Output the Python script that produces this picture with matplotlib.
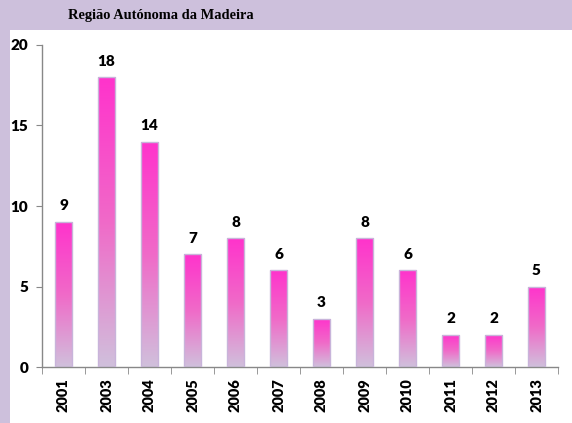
import numpy as np
import matplotlib
matplotlib.use("Agg")
import matplotlib.pyplot as plt
from matplotlib.patches import Rectangle
from matplotlib.colors import LinearSegmentedColormap

years = ["2001", "2003", "2004", "2005", "2006", "2007", "2008", "2009", "2010", "2011", "2012", "2013"]
values = [9, 18, 14, 7, 8, 6, 3, 8, 6, 2, 2, 5]
yticks = [0, 5, 10, 15, 20]
title = "Região Autónoma da Madeira"

W, H = 572, 423
fig = plt.figure(figsize=(W / 100, H / 100), dpi=100)
fig.patch.set_facecolor("#CDC0DC")
fig.add_artist(Rectangle((10 / W, 0), 1 - 10 / W, 1 - 30 / H, transform=fig.transFigure,
                         facecolor="white", edgecolor="none", zorder=0))

ax = fig.add_axes([42 / W, 1 - 367 / H, (558 - 42) / W, (367 - 45) / H])
ax.set_facecolor("none")

FW = "heavy"
FAM = "Lato"

cmap = LinearSegmentedColormap.from_list("g", ["#D0C0DC", "#F06AC8", "#FF33CC"])
grad = np.linspace(0, 1, 256).reshape(-1, 1)
bw = 0.4
x = np.arange(len(years))
bars = ax.bar(x, values, width=bw, facecolor="none", edgecolor="#C8B4DA", linewidth=1.0, zorder=3)
for b, v in zip(bars, values):
    im = ax.imshow(grad, extent=[b.get_x(), b.get_x() + bw, 0, v], origin="lower",
                   aspect="auto", cmap=cmap, zorder=2, interpolation="bilinear")
    im.set_clip_path(b)
    ax.text(b.get_x() + bw / 2, v + 0.6, str(v), ha="center", va="bottom",
            fontsize=11, fontweight=FW, family=FAM, color="black")

ax.set_xlim(-0.5, len(years) - 0.5)
ax.set_ylim(0, 20)
ax.set_yticks(yticks)
ax.set_yticklabels([str(t) for t in yticks], fontsize=11, fontweight=FW, family=FAM)
ax.set_xticks(x)
ax.set_xticklabels(years, rotation=90, fontsize=10.5, fontweight=FW, family=FAM)
ax.set_xticks(np.arange(-0.5, len(years), 1.0), minor=True)
ax.tick_params(axis="x", which="major", length=0, pad=8)
ax.tick_params(axis="x", which="minor", length=5, color="#888888", direction="out")
ax.tick_params(axis="y", length=4, color="#888888", direction="out", pad=6)
for s in ["top", "right"]:
    ax.spines[s].set_visible(False)
for s in ["left", "bottom"]:
    ax.spines[s].set_color("#888888")
    ax.spines[s].set_linewidth(1.0)

fig.text(161 / W, 1 - 16 / H, title, ha="center", va="center", fontsize=10.4,
         fontweight="bold", family="Liberation Serif", color="black")

fig.savefig("out.png", dpi=100, facecolor=fig.get_facecolor())
